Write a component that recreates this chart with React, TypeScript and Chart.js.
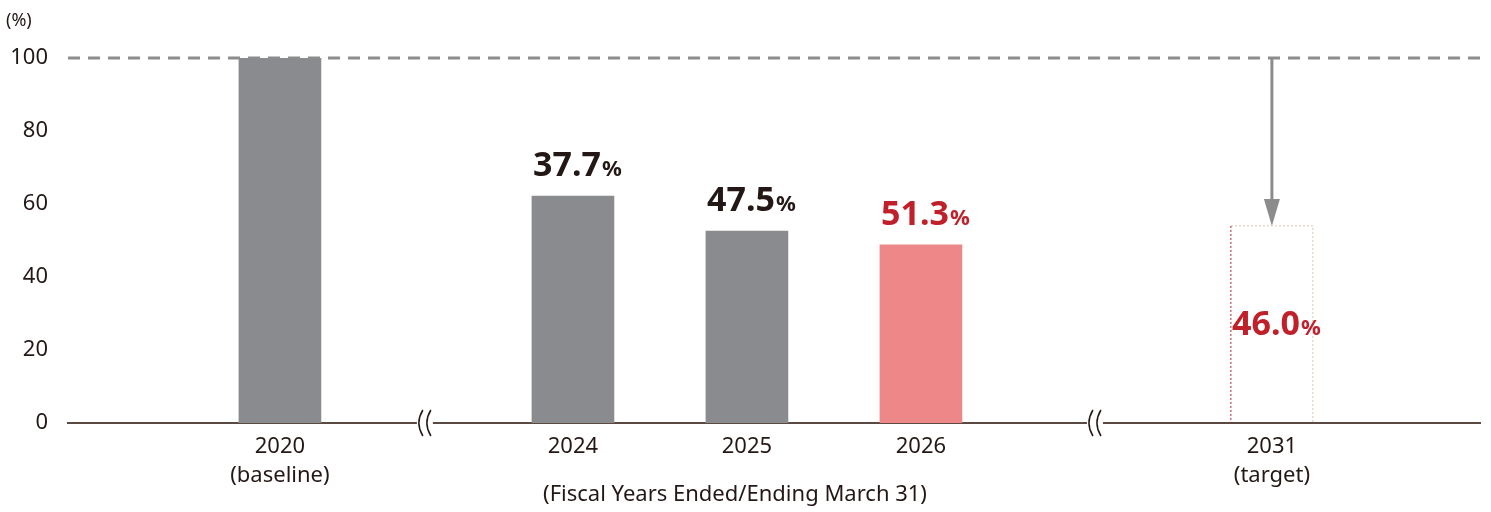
import React, { useEffect, useRef } from "react";
import { Chart, registerables } from "chart.js";
Chart.register(...registerables);

const years = ["2020", "2024", "2025", "2026", "2031"];
const subLabels = ["(baseline)", "", "", "", "(target)"];
const xSlots = [0, 1.684, 2.684, 3.684, 5.701];
const values = [100, 62.2, 52.6, 48.8, 54.0];
const reductionLabels = ["", "37.7", "47.5", "51.3", "46.0"];
const breakSlots = [0.833, 4.684];
const yTicks = [0, 20, 40, 60, 80, 100];

const FONT = '"Noto Sans", "Noto Sans CJK JP", sans-serif';

export default function App() {
  const ref = useRef<HTMLCanvasElement>(null);
  useEffect(() => {
    const extras = {
      id: "extras",
      afterDatasetsDraw(chart: any) {
        const ctx = chart.ctx;
        const xs = chart.scales.x, ys = chart.scales.y;
        const area = chart.chartArea;
        ctx.save();
        ctx.strokeStyle = "#8c8c8c"; ctx.lineWidth = 3; ctx.setLineDash([12, 8]);
        ctx.beginPath(); ctx.moveTo(area.left, ys.getPixelForValue(100)); ctx.lineTo(area.right, ys.getPixelForValue(100)); ctx.stroke();
        ctx.setLineDash([]);
        const tx = xs.getPixelForValue(xSlots[4]);
        const ty = ys.getPixelForValue(values[4]);
        const y0 = ys.getPixelForValue(0);
        ctx.lineWidth = 1; ctx.setLineDash([2, 2]);
        ctx.strokeStyle = "#d8c3b0";
        ctx.beginPath(); ctx.moveTo(tx - 41, ty); ctx.lineTo(tx + 41, ty); ctx.lineTo(tx + 41, y0); ctx.stroke();
        ctx.strokeStyle = "#b01e2a";
        ctx.beginPath(); ctx.moveTo(tx - 41, ty); ctx.lineTo(tx - 41, y0); ctx.stroke();
        ctx.setLineDash([]);
        ctx.strokeStyle = "#8c8c8c"; ctx.fillStyle = "#8c8c8c"; ctx.lineWidth = 3;
        ctx.beginPath(); ctx.moveTo(tx, ys.getPixelForValue(100)); ctx.lineTo(tx, ty - 20); ctx.stroke();
        ctx.beginPath(); ctx.moveTo(tx - 8, ty - 27); ctx.lineTo(tx + 8, ty - 27); ctx.lineTo(tx, ty); ctx.closePath(); ctx.fill();
        values.forEach((v, i) => {
          if (!reductionLabels[i]) return;
          const x = xs.getPixelForValue(xSlots[i]);
          const red = i >= 3;
          ctx.fillStyle = red ? "#c0202a" : "#231815";
          const y = i === 4 ? ys.getPixelForValue(24) : ys.getPixelForValue(v) - 20;
          ctx.font = `bold 34px ${FONT}`;
          const t1 = reductionLabels[i];
          const w1 = ctx.measureText(t1).width;
          ctx.font = `bold 22px ${FONT}`;
          const w2 = ctx.measureText("%").width;
          const sx = x - (w1 + w2) / 2 + 4;
          ctx.textBaseline = "alphabetic"; ctx.textAlign = "left";
          ctx.font = `bold 34px ${FONT}`;
          ctx.fillText(t1, sx, y);
          ctx.font = `bold 22px ${FONT}`;
          ctx.fillText("%", sx + w1 + 1, y);
        });
        ctx.fillStyle = "#231815"; ctx.textAlign = "center"; ctx.textBaseline = "middle";
        ctx.font = `22px ${FONT}`;
        years.forEach((yr, i) => {
          const x = xs.getPixelForValue(xSlots[i]);
          ctx.fillText(yr, x, 447);
          if (subLabels[i]) ctx.fillText(subLabels[i], x, 476);
        });
        ctx.fillText("(Fiscal Years Ended/Ending March 31)", 735, 495);
        ctx.font = `18px ${FONT}`; ctx.textAlign = "left";
        ctx.fillText("(%)", 6, 21);
        breakSlots.forEach((s) => {
          const bx = xs.getPixelForValue(s);
          ctx.fillStyle = "#fff"; ctx.fillRect(bx - 8, y0 - 4, 16, 8);
          ctx.strokeStyle = "#231815"; ctx.lineWidth = 1.5;
          [-4, 4].forEach((dx) => {
            ctx.beginPath();
            ctx.moveTo(bx + dx + 2, y0 - 13);
            ctx.quadraticCurveTo(bx + dx - 6, y0, bx + dx + 2, y0 + 13);
            ctx.stroke();
          });
        });
        ctx.restore();
      },
    };
    const chart = new Chart(ref.current!, {
      type: "bar",
      data: {
        datasets: [{
          data: xSlots.map((x, i) => ({ x, y: i === 4 ? 0 : values[i] })),
          backgroundColor: ["#8a8b8e", "#8a8b8e", "#8a8b8e", "#ee8888", "rgba(0,0,0,0)"],
          barThickness: 82,
        }],
      },
      options: {
        animation: false,
        responsive: false,
        layout: { padding: { top: 58, right: 11, left: 0, bottom: 0 } },
        plugins: { legend: { display: false }, tooltip: { enabled: false } },
        scales: {
          x: {
            type: "linear", min: -1.218, max: 6.897, offset: false,
            grid: { display: false, drawTicks: false },
            border: { color: "#5a4a42", width: 2 },
            ticks: { display: false },
            afterFit: (s: any) => { s.height = 89; },
          },
          y: {
            min: 0, max: 100,
            afterBuildTicks: (s: any) => { s.ticks = yTicks.map((v) => ({ value: v })); },
            grid: { display: false },
            border: { display: false },
            ticks: { color: "#231815", font: { size: 22, family: FONT }, padding: 12 },
            afterFit: (s: any) => { s.width = 68; },
          },
        },
      },
      plugins: [extras],
    });
    return () => chart.destroy();
  }, []);
  return (
    <div style={{ position: "absolute", left: 0, top: 0, width: 1491, height: 512, background: "#fff" }}>
      <canvas ref={ref} width={1491} height={512} />
    </div>
  );
}
